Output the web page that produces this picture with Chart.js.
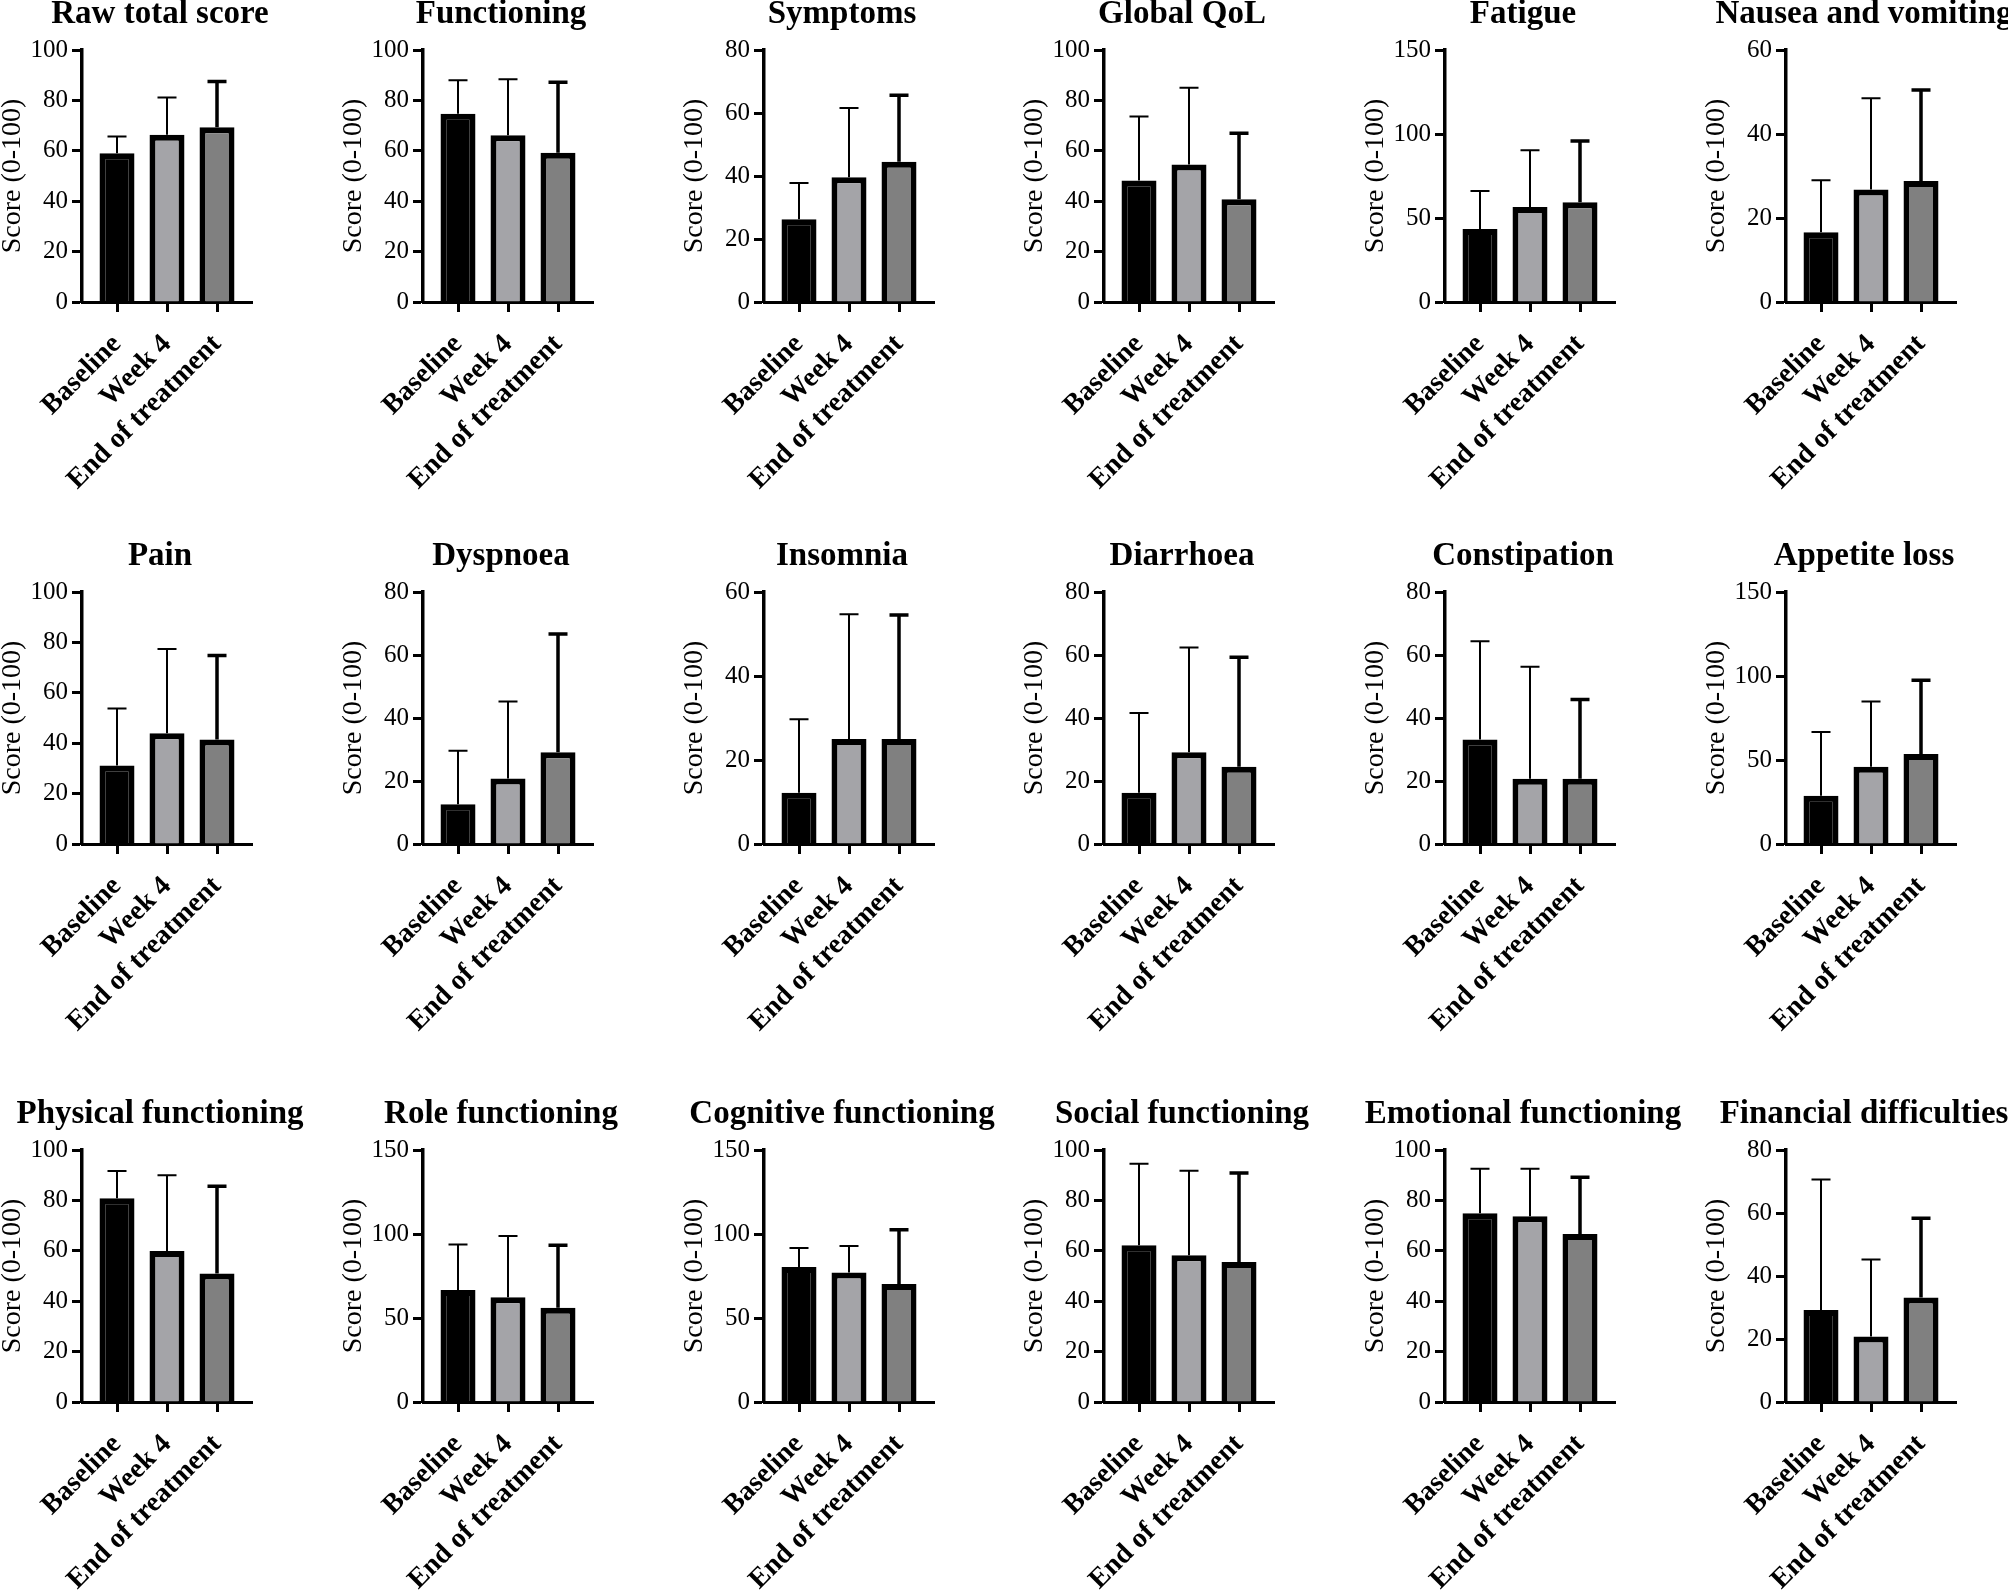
<!DOCTYPE html>
<html lang="en">
<head>
<meta charset="UTF-8">
<title>EORTC QLQ-C30 scores</title>
<script src="https://cdn.jsdelivr.net/npm/chart.js"></script>
<style>
  html, body { margin: 0; padding: 0; background: #fff; overflow: hidden; }
  #wrap { position: relative; width: 2008px; height: 1596px; overflow: hidden; }
  #wrap canvas { position: absolute; }
</style>
</head>
<body>
<div id="wrap"></div>
<script>
// panels, left to right, top to bottom
const panelTitles = [
  'Raw total score', 'Functioning', 'Symptoms', 'Global QoL', 'Fatigue', 'Nausea and vomiting',
  'Pain', 'Dyspnoea', 'Insomnia', 'Diarrhoea', 'Constipation', 'Appetite loss',
  'Physical functioning', 'Role functioning', 'Cognitive functioning', 'Social functioning', 'Emotional functioning', 'Financial difficulties'
];
const groups = ['Baseline', 'Week 4', 'End of treatment'];
const axisMax  = [100, 100, 80, 100, 150, 60,  100, 80, 60, 80, 80, 150,  100, 150, 150, 100, 100, 80];
const axisStep = [20, 20, 20, 20, 50, 20,  20, 20, 20, 20, 20, 50,  20, 50, 50, 20, 20, 20];

// means
const baselineMean = [59.0, 74.7, 26.3, 48.2, 43.5, 16.6,  31.2, 12.6, 12.2, 16.3, 33.2, 28.7,  80.9, 66.6, 80.4, 62.2, 74.9, 29.2];
const week4Mean    = [66.4, 66.2, 39.6, 54.6, 56.6, 26.8,  43.9, 20.8, 25.0, 29.1, 20.7, 46.0,  59.9, 62.3, 77.1, 58.2, 73.7, 20.8];
const endMean      = [69.3, 59.2, 44.5, 40.8, 59.4, 28.8,  41.5, 29.1, 25.0, 24.5, 20.7, 53.5,  51.0, 56.1, 70.2, 55.6, 66.7, 33.2];
// standard deviations (upper error bars)
const baselineSD = [6.7, 13.3, 11.5, 25.4, 22.6, 12.4,  22.6, 17.0, 17.5, 25.3, 31.2, 37.9,  10.8, 27.1, 11.3, 32.3, 17.7, 41.4];
const week4SD    = [14.8, 22.2, 22.0, 30.4, 33.8, 21.7,  33.5, 24.4, 29.7, 33.3, 35.6, 38.8,  30.1, 36.5, 15.8, 33.6, 18.9, 24.4];
const endSD      = [18.2, 28.0, 21.1, 26.2, 36.4, 21.7,  33.3, 37.6, 29.5, 34.8, 25.2, 44.0,  34.6, 37.2, 32.4, 35.3, 22.5, 25.1];

const barColors = ['#000000', '#a4a4a8', '#808080'];
const serif = "'Liberation Serif', 'Times New Roman', serif";

const rowTop = [-5, 537, 1095];
const colStep = 340.8;
const canvasW = 340, canvasH = 510;

// draws mean + SD whiskers on top of each bar
const errorBars = {
  id: 'errorBars',
  afterDatasetsDraw(chart) {
    const ctx = chart.ctx;
    const y = chart.scales.y;
    const ds = chart.data.datasets[0];
    const widths = [2, 2, 3.5];
    ctx.save();
    ctx.strokeStyle = '#000';
    chart.getDatasetMeta(0).data.forEach((bar, i) => {
      const v = ds.data[i].y;
      const y0 = y.getPixelForValue(v);
      const y1 = y.getPixelForValue(v + ds.sd[i]);
      ctx.lineWidth = widths[i];
      ctx.beginPath();
      ctx.moveTo(bar.x, y0);
      ctx.lineTo(bar.x, y1);
      ctx.moveTo(bar.x - 9.5, y1);
      ctx.lineTo(bar.x + 9.5, y1);
      ctx.stroke();
    });
    ctx.restore();
  }
};

const wrap = document.getElementById('wrap');

panelTitles.forEach((title, p) => {
  const row = Math.floor(p / 6), col = p % 6;
  const canvas = document.createElement('canvas');
  canvas.width = canvasW;
  canvas.height = canvasH;
  canvas.style.left = (col * colStep - 10) + 'px';
  canvas.style.top = rowTop[row] + 'px';
  wrap.appendChild(canvas);

  const means = [baselineMean[p], week4Mean[p], endMean[p]];
  const sds = [baselineSD[p], week4SD[p], endSD[p]];

  new Chart(canvas, {
    type: 'bar',
    data: {
      datasets: [{
        data: means.map((m, i) => ({ x: i, y: m })),
        sd: sds,
        backgroundColor: barColors,
        borderColor: '#000',
        borderWidth: 6,
        barPercentage: 0.7,
        categoryPercentage: 1.0
      }]
    },
    options: {
      responsive: false,
      animation: false,
      layout: { padding: 0 },
      plugins: {
        legend: { display: false },
        tooltip: { enabled: false },
        title: {
          display: true,
          text: title,
          color: '#000',
          font: { family: serif, size: 33, weight: 'bold' },
          padding: { top: 0, bottom: 15.4 }
        }
      },
      scales: {
        x: {
          type: 'linear',
          min: -0.7,
          max: 2.7,
          offset: false,
          afterBuildTicks: s => { s.ticks = groups.map((g, i) => ({ value: i })); },
          afterFit: s => { s.height = canvasH - 307; },
          ticks: {
            autoSkip: false,
            minRotation: 45,
            maxRotation: 45,
            padding: 16,
            color: '#000',
            font: { family: serif, size: 28, weight: 'bold' },
            callback: v => groups[v]
          },
          grid: { drawOnChartArea: false, offset: false, tickLength: 10, tickWidth: 3, tickColor: '#000' },
          border: { color: '#000', width: 3 }
        },
        y: {
          min: 0,
          max: axisMax[p],
          afterFit: s => { s.width = 92; },
          ticks: {
            stepSize: axisStep[p],
            padding: 4,
            color: '#000',
            font: { family: serif, size: 25 }
          },
          title: {
            display: true,
            text: 'Score (0-100)',
            color: '#000',
            font: { family: serif, size: 28 },
            padding: { top: 6, bottom: 0 }
          },
          grid: { drawOnChartArea: false, tickLength: 10, tickWidth: 3, tickColor: '#000' },
          border: { color: '#000', width: 3.5 }
        },
        // empty spacer on the right so the title centres over the whole panel
        spacer: {
          type: 'linear',
          position: 'right',
          afterFit: s => { s.width = 78; },
          ticks: { display: false },
          grid: { display: false },
          border: { display: false }
        }
      }
    },
    plugins: [errorBars]
  });
});
</script>
</body>
</html>
